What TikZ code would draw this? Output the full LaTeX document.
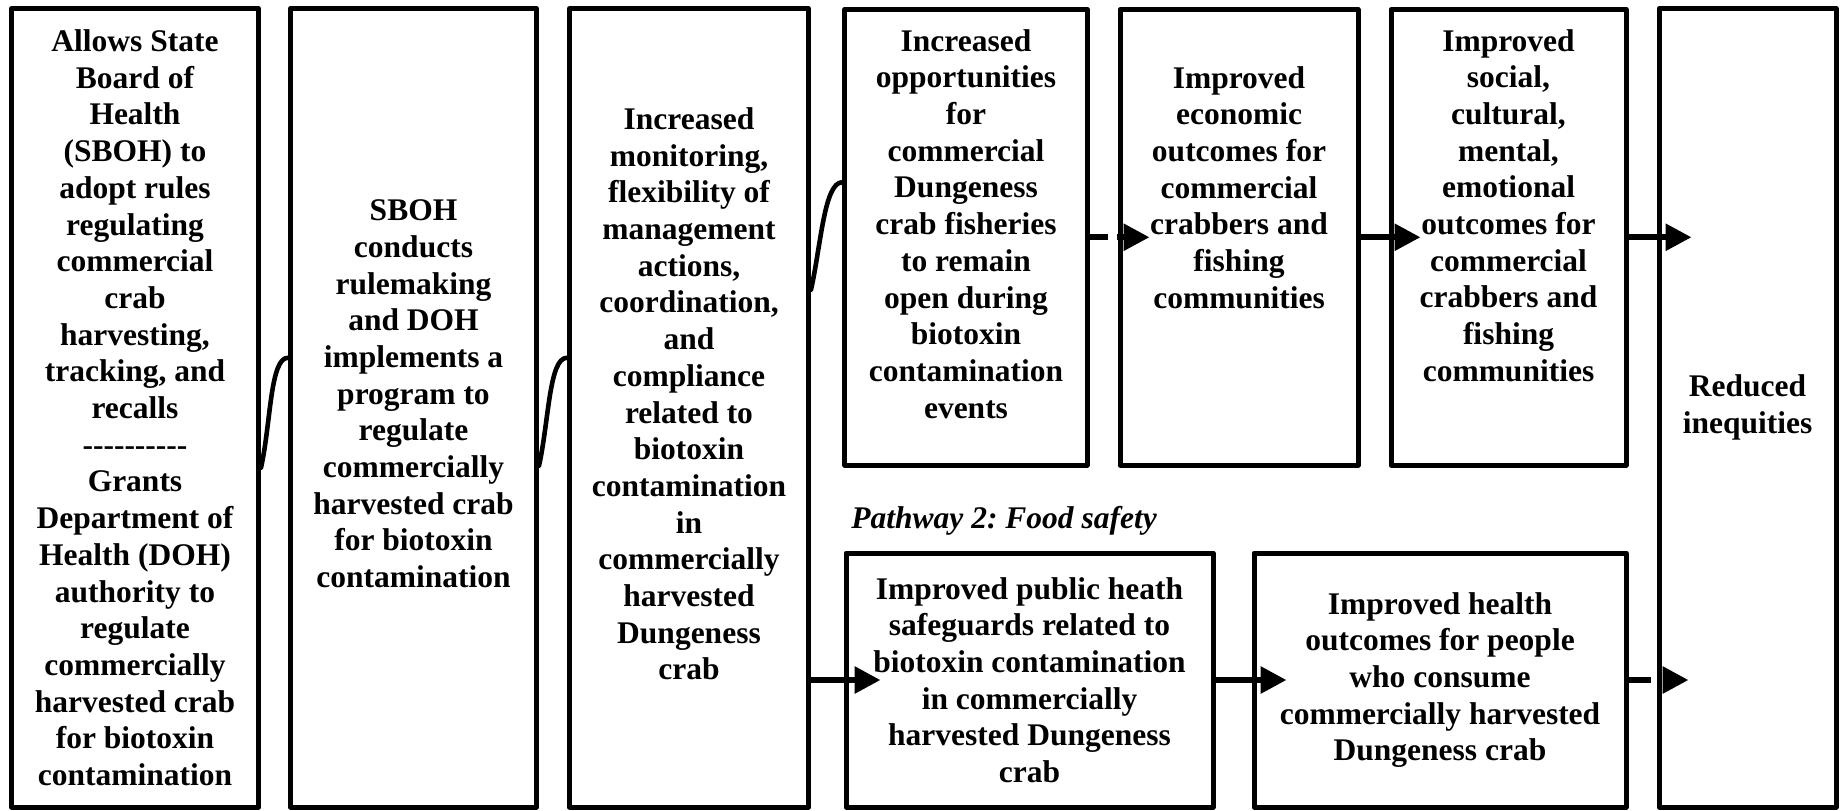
\documentclass[tikz,border=0pt]{standalone}
\usepackage{fontspec}
\setmainfont{Liberation Serif}
\usetikzlibrary{arrows.meta, calc}
\newcommand{\crabfont}{\fontsize{15.75}{18.35}\selectfont\bfseries\frenchspacing}
\newcommand{\lift}[1]{\\[#1]\mbox{}}
\newcommand{\sepdash}{\mbox{-}\mbox{-}\mbox{-}\mbox{-}\mbox{-}\mbox{-}\mbox{-}\mbox{-}\mbox{-}\mbox{-}}

\begin{document}
\begin{tikzpicture}[line cap=round,line join=round,>={Triangle[length=13pt,width=13pt]},x=0.5pt,y=-0.5pt,
  every node/.style={font=\crabfont},
  box/.style={draw, line width=2.5pt, align=center, inner sep=0pt},
  tallbox/.style={box, minimum height=399.25pt},
  topbox/.style={box, minimum height=227.75pt},
  lowbox/.style={box, minimum height=127pt},
  link/.style={line width=2.3pt},
  arr/.style={->, line width=3pt, line cap=butt}]
\useasboundingbox (0,0) rectangle (1845,810);

% Inputs and activities
\node [tallbox, minimum width=123.5pt] (auth) at (135,407.75) {Allows State\\Board of\\Health\\(SBOH) to\\adopt rules\\regulating\\commercial\\crab\\harvesting,\\tracking, and\\recalls\\\sepdash\\Grants\\Department of\\Health (DOH)\\authority to\\regulate\\commercially\\harvested crab\\for biotoxin\\contamination};
\node [tallbox, minimum width=123pt] (rule) at (413.5,407.75) {SBOH\\conducts\\rulemaking\\and DOH\\implements a\\program to\\regulate\\commercially\\harvested crab\\for biotoxin\\contamination\lift{-4.35pt}};
\node [tallbox, minimum width=119.5pt] (mon) at (689,407.75) {Increased\\monitoring,\\flexibility of\\management\\actions,\\coordination,\\and\\compliance\\related to\\biotoxin\\contamination\\in\\commercially\\harvested\\Dungeness\\crab\lift{-4.35pt}};

% Pathway 1
\node [topbox, minimum width=121.25pt] (opp) at (966,237.25) {Increased\\opportunities\\for\\commercial\\Dungeness\\crab fisheries\\to remain\\open during\\biotoxin\\contamination\\events\lift{-4.85pt}};
\node [topbox, minimum width=119pt] (econ) at (1239,237.25) {Improved\\economic\\outcomes for\\commercial\\crabbers and\\fishing\\communities\lift{31.65pt}};
\node [topbox, minimum width=117.5pt] (social) at (1508.5,237.25) {Improved\\social,\\cultural,\\mental,\\emotional\\outcomes for\\commercial\\crabbers and\\fishing\\communities\lift{13.65pt}};

% Pathway 2
\node [anchor=west, inner sep=0pt, font={\crabfont\itshape}] (path) at (851,521) {Pathway 2: Food safety};
\node [lowbox, minimum width=183.5pt] (safe) at (1029.5,680) {Improved public heath\\safeguards related to\\biotoxin contamination\\in commercially\\harvested Dungeness\\crab};
\node [lowbox, minimum width=186pt] (health) at (1440,680) {Improved health\\outcomes for people\\who consume\\commercially harvested\\Dungeness crab};

% Outcome
\node [tallbox, minimum width=88.5pt] (ineq) at (1747.5,407.75) {Reduced\\inequities};

% Curved links
\draw [link] ([yshift=-30pt]auth.east) .. controls +(5pt,22.5pt) and +(-9pt,0pt) .. ([yshift=25pt]rule.west);
\draw [link] ([yshift=-29pt]rule.east) .. controls +(5pt,22.5pt) and +(-9pt,0pt) .. ([yshift=25pt]mon.west);
\draw [link] ([yshift=59pt]mon.east) .. controls +(5pt,22.5pt) and +(-9pt,0pt) .. ([yshift=27.5pt]opp.west);

% Arrows
\draw [arr, dash pattern=on 9pt off 4.5pt] (opp.east) -- ([xshift=16pt]opp.east -| econ.west);
\draw [arr] (econ.east) -- ([xshift=16pt]econ.east -| social.west);
\draw [arr] (social.east) -- ([xshift=17.5pt]social.east -| ineq.west);
\draw [arr] (mon.east |- safe.west) -- ([xshift=18.5pt]safe.west);
\draw [arr] (safe.east) -- ([xshift=17.5pt]safe.east -| health.west);
\draw [arr, dash pattern=on 11pt off 6pt] (health.east) -- ([xshift=16pt]health.east -| ineq.west);
\end{tikzpicture}
\end{document}
